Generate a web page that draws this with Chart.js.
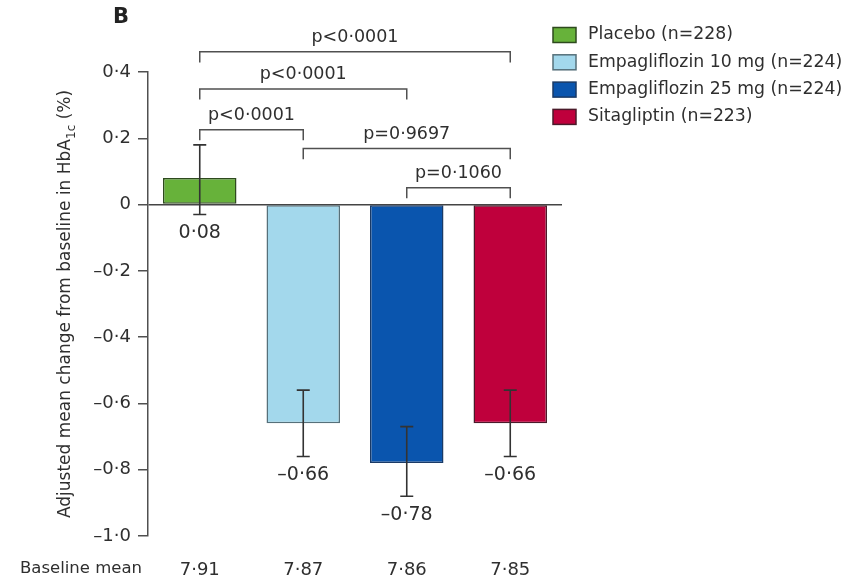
<!DOCTYPE html>
<html>
<head>
<meta charset="utf-8">
<script src="https://cdn.jsdelivr.net/npm/chart.js@4.4.1/dist/chart.umd.min.js"></script>
<style>
  html, body { margin: 0; padding: 0; background: #ffffff; }
  canvas { display: block; }
</style>
</head>
<body>
<canvas id="chart" width="855" height="582"></canvas>
<script>
// Treatment groups and HbA1c change at week 24
const categories = ['Placebo (n=228)', 'Empagliflozin 10 mg (n=224)', 'Empagliflozin 25 mg (n=224)', 'Sitagliptin (n=223)'];
const meanChange = [0.08, -0.66, -0.78, -0.66];
const ciLower = [-0.03, -0.76, -0.88, -0.76];
const ciUpper = [0.18, -0.56, -0.67, -0.56];
const baselineMean = ['7·91', '7·87', '7·86', '7·85'];
const yTicks = [0.4, 0.2, 0, -0.2, -0.4, -0.6, -0.8, -1.0];

// Pairwise comparisons: group indices and p value text
const compFrom = [0, 0, 0, 1, 2];
const compTo = [3, 2, 1, 3, 3];
const compLabel = ['p<0·0001', 'p<0·0001', 'p<0·0001', 'p=0·9697', 'p=0·1060'];

const barColors = ['#67b23a', '#a3d8ec', '#0a55ae', '#bf003c'];
const barBorders = ['#2e4a1e', '#56707a', '#1a3a66', '#4a1a2a'];

const FONT = '"DejaVu Sans", "Open Sans", sans-serif';
const TEXT = '#2f2f2f';
const LINE = '#505050';

// Decimal formatting with a middle dot and an en dash for negatives
function fmt(v, digits) {
  if (Math.abs(v) < 1e-9) return '0';
  const s = Math.abs(v).toFixed(digits).replace('.', '·');
  return (v < 0 ? '–' : '') + s;
}

const annotations = {
  id: 'annotations',
  afterDatasetsDraw(chart) {
    const c = chart.ctx;
    const y = chart.scales.y;
    const meta = chart.getDatasetMeta(0);
    c.save();

    // error bars
    c.strokeStyle = '#333333';
    c.lineWidth = 1.6;
    meta.data.forEach((bar, i) => {
      const yHi = y.getPixelForValue(ciUpper[i]);
      const yLo = y.getPixelForValue(ciLower[i]);
      c.beginPath();
      c.moveTo(bar.x, yHi); c.lineTo(bar.x, yLo);
      c.moveTo(bar.x - 6.5, yHi); c.lineTo(bar.x + 6.5, yHi);
      c.moveTo(bar.x - 6.5, yLo); c.lineTo(bar.x + 6.5, yLo);
      c.stroke();
    });

    // value labels under each error bar
    c.fillStyle = TEXT;
    c.font = '19px ' + FONT;
    c.textAlign = 'center';
    c.textBaseline = 'middle';
    meta.data.forEach((bar, i) => {
      c.fillText(fmt(meanChange[i], 2), bar.x, y.getPixelForValue(ciLower[i]) + 19);
    });

    // comparison brackets above the bars
    const levels = [0.461, 0.349, 0.226, 0.169, 0.051];
    const leg = 0.032;
    c.strokeStyle = LINE;
    c.lineWidth = 1.5;
    c.font = '17.5px ' + FONT;
    compFrom.forEach((f, k) => {
      const x1 = meta.data[f].x, x2 = meta.data[compTo[k]].x;
      const yl = y.getPixelForValue(levels[k]);
      const yb = y.getPixelForValue(levels[k] - leg);
      c.beginPath();
      c.moveTo(x1, yb); c.lineTo(x1, yl); c.lineTo(x2, yl); c.lineTo(x2, yb);
      c.stroke();
      c.fillText(compLabel[k], (x1 + x2) / 2, yl - 14);
    });

    // legend
    c.textAlign = 'left';
    c.font = '17.3px ' + FONT;
    categories.forEach((name, i) => {
      const cy = 35 + i * 27.3;
      c.fillStyle = barColors[i];
      c.fillRect(553, cy - 7.5, 23, 15);
      c.strokeStyle = barBorders[i];
      c.lineWidth = 1.5;
      c.strokeRect(553, cy - 7.5, 23, 15);
      c.fillStyle = TEXT;
      c.fillText(name, 588, cy);
    });

    // panel letter
    c.font = 'bold 21px ' + FONT;
    c.fillStyle = '#222222';
    c.fillText('B', 113, 18);

    // row caption for the baseline values
    c.font = '16.5px ' + FONT;
    c.fillStyle = TEXT;
    c.fillText('Baseline mean', 20, 569);

    // y-axis title with subscript
    c.translate(66, (y.top + y.bottom) / 2);
    c.rotate(-Math.PI / 2);
    const mainFont = '17px ' + FONT, subFont = '12px ' + FONT;
    const t1 = 'Adjusted mean change from baseline in HbA', t2 = '1c', t3 = ' (%)';
    c.font = mainFont; const w1 = c.measureText(t1).width, w3 = c.measureText(t3).width;
    c.font = subFont; const w2 = c.measureText(t2).width;
    let x0 = -(w1 + w2 + w3) / 2;
    c.font = mainFont; c.fillText(t1, x0, 0);
    c.font = subFont; c.fillText(t2, x0 + w1, 6);
    c.font = mainFont; c.fillText(t3, x0 + w1 + w2, 0);
    c.restore();
  }
};

new Chart(document.getElementById('chart'), {
  type: 'bar',
  data: {
    labels: baselineMean,
    datasets: [{
      data: meanChange,
      backgroundColor: barColors,
      borderColor: barBorders,
      borderWidth: 1.5,
      borderSkipped: false,
      barPercentage: 0.71,
      categoryPercentage: 1
    }]
  },
  options: {
    responsive: false,
    animation: false,
    devicePixelRatio: 1,
    layout: { padding: { left: 0, right: 293, top: 72, bottom: 0 } },
    plugins: { legend: { display: false }, tooltip: { enabled: false } },
    scales: {
      x: {
        grid: { display: false },
        border: { display: false },
        ticks: { padding: 16, color: TEXT, font: { family: FONT, size: 18 } },
        afterFit(s) { s.height = 46; }
      },
      y: {
        min: -1, max: 0.4,
        afterBuildTicks(s) { s.ticks = yTicks.map(v => ({ value: v })); },
        afterFit(s) { s.width = 148; },
        ticks: {
          padding: 7, color: TEXT, font: { family: FONT, size: 18 },
          callback: v => fmt(v, 1)
        },
        grid: {
          color: ctx => (ctx.tick && ctx.tick.value === 0) ? '#444444' : 'rgba(0,0,0,0)',
          tickColor: LINE,
          tickLength: 10,
          lineWidth: 1.5
        },
        border: { color: LINE, width: 1.5 }
      }
    }
  },
  plugins: [annotations]
});
</script>
</body>
</html>
